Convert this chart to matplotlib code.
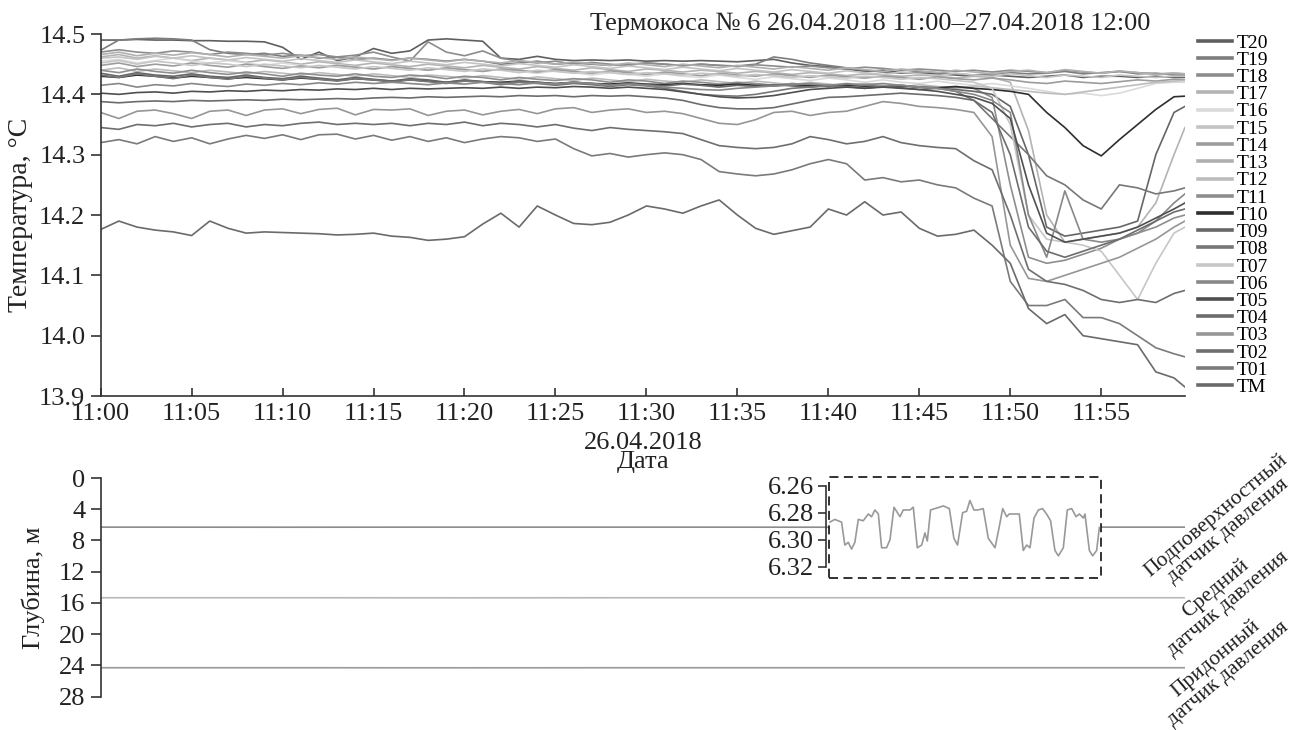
import matplotlib
matplotlib.use('Agg')
import matplotlib.pyplot as plt
from matplotlib.patches import Rectangle

plt.rcParams['font.family'] = ['Liberation Serif', 'DejaVu Serif']

# time in minutes after 11:00, 26.04.2018
minutes = list(range(60)) + [59.6]
tick_minutes = [0, 5, 10, 15, 20, 25, 30, 35, 40, 45, 50, 55]
tick_labels = ['11:00', '11:05', '11:10', '11:15', '11:20', '11:25',
               '11:30', '11:35', '11:40', '11:45', '11:50', '11:55']

# temperature, degC
tm = [14.176, 14.19, 14.18, 14.175, 14.172, 14.166, 14.19, 14.178, 14.17, 14.172,
      14.171, 14.17, 14.169, 14.167, 14.168, 14.17, 14.165, 14.163, 14.158, 14.16,
      14.164, 14.185, 14.203, 14.18, 14.215, 14.2, 14.186, 14.184, 14.188, 14.2,
      14.215, 14.21, 14.203, 14.215, 14.225, 14.2, 14.178, 14.168, 14.174, 14.18,
      14.21, 14.2, 14.222, 14.2, 14.205, 14.178, 14.165, 14.168, 14.175, 14.15,
      14.12, 14.045, 14.02, 14.035, 14.0, 13.995, 13.99, 13.985, 13.94, 13.93,
      13.915]
t01 = [14.32, 14.325, 14.318, 14.33, 14.322, 14.328, 14.318, 14.326, 14.332, 14.327,
       14.333, 14.325, 14.333, 14.334, 14.326, 14.332, 14.324, 14.33, 14.322, 14.328,
       14.32, 14.326, 14.33, 14.328, 14.322, 14.326, 14.31, 14.298, 14.302, 14.296,
       14.3, 14.303, 14.3, 14.292, 14.272, 14.268, 14.265, 14.268, 14.275, 14.285,
       14.292, 14.285, 14.258, 14.262, 14.255, 14.258, 14.25, 14.245, 14.228, 14.215,
       14.09, 14.05, 14.05, 14.06, 14.03, 14.03, 14.02, 14.0, 13.98, 13.97,
       13.965]
t02 = [14.345, 14.342, 14.35, 14.348, 14.352, 14.346, 14.35, 14.352, 14.346, 14.35,
       14.348, 14.352, 14.354, 14.35, 14.352, 14.35, 14.352, 14.348, 14.352, 14.35,
       14.354, 14.348, 14.352, 14.35, 14.346, 14.35, 14.344, 14.34, 14.345, 14.342,
       14.34, 14.338, 14.335, 14.325, 14.315, 14.312, 14.31, 14.312, 14.318, 14.33,
       14.325, 14.318, 14.322, 14.33, 14.32, 14.315, 14.312, 14.31, 14.29, 14.275,
       14.2, 14.11, 14.09, 14.085, 14.075, 14.06, 14.055, 14.06, 14.055, 14.07,
       14.075]
t03 = [14.37, 14.36, 14.372, 14.374, 14.368, 14.36, 14.372, 14.374, 14.365, 14.374,
       14.376, 14.368, 14.375, 14.377, 14.366, 14.375, 14.374, 14.376, 14.365, 14.372,
       14.374, 14.366, 14.372, 14.375, 14.368, 14.376, 14.378, 14.37, 14.374, 14.376,
       14.37, 14.372, 14.368, 14.36, 14.352, 14.35, 14.358, 14.37, 14.372, 14.365,
       14.37, 14.372, 14.38, 14.388, 14.385, 14.38, 14.378, 14.375, 14.37, 14.33,
       14.15, 14.095, 14.09, 14.1, 14.11, 14.12, 14.13, 14.145, 14.16, 14.18,
       14.19]
t04 = [14.388, 14.386, 14.388, 14.389, 14.388, 14.39, 14.389, 14.39, 14.391, 14.39,
       14.392, 14.391, 14.392, 14.393, 14.392, 14.394, 14.395, 14.394, 14.396, 14.395,
       14.396, 14.397, 14.396, 14.398, 14.397, 14.398, 14.396, 14.398, 14.397, 14.398,
       14.396, 14.394, 14.39, 14.383, 14.378, 14.376, 14.376, 14.378, 14.384, 14.39,
       14.395, 14.396, 14.398, 14.4, 14.402, 14.4, 14.398, 14.395, 14.39, 14.37,
       14.3, 14.18, 14.14, 14.13, 14.14, 14.15, 14.16, 14.175, 14.19, 14.205,
       14.21]
t05 = [14.402, 14.4, 14.403, 14.404, 14.402, 14.405, 14.404, 14.406, 14.405, 14.407,
       14.406, 14.408, 14.407, 14.409, 14.408, 14.41, 14.408, 14.41, 14.409, 14.41,
       14.411, 14.41, 14.412, 14.41, 14.412, 14.411, 14.413, 14.412, 14.41, 14.412,
       14.41, 14.408, 14.404, 14.4, 14.396, 14.394, 14.395, 14.398, 14.403, 14.408,
       14.41, 14.412, 14.41, 14.412, 14.41, 14.408, 14.405, 14.4, 14.395, 14.385,
       14.36, 14.25, 14.17, 14.155, 14.16, 14.165, 14.17, 14.18, 14.195, 14.21,
       14.22]
t06 = [14.415, 14.418, 14.412, 14.416, 14.414, 14.418, 14.415, 14.413, 14.417, 14.415,
       14.418, 14.416, 14.419, 14.417, 14.42, 14.418, 14.42, 14.418, 14.416, 14.419,
       14.417, 14.42, 14.418, 14.416, 14.419, 14.417, 14.42, 14.418, 14.415, 14.417,
       14.415, 14.412, 14.41, 14.408, 14.407, 14.41, 14.412, 14.414, 14.416, 14.418,
       14.415, 14.418, 14.416, 14.418, 14.415, 14.412, 14.41, 14.405, 14.4, 14.39,
       14.37, 14.2, 14.13, 14.24, 14.16, 14.155, 14.16, 14.17, 14.19, 14.22,
       14.235]
t07 = [14.452, 14.456, 14.45, 14.455, 14.452, 14.448, 14.452, 14.45, 14.446, 14.45,
       14.447, 14.444, 14.448, 14.445, 14.442, 14.446, 14.443, 14.44, 14.444, 14.441,
       14.438, 14.442, 14.44, 14.436, 14.44, 14.438, 14.435, 14.438, 14.436, 14.433,
       14.436, 14.434, 14.432, 14.435, 14.433, 14.43, 14.433, 14.431, 14.428, 14.431,
       14.429, 14.427, 14.43, 14.428, 14.425, 14.428, 14.426, 14.423, 14.42, 14.41,
       14.35, 14.2, 14.16, 14.155, 14.15, 14.14, 14.1, 14.06, 14.12, 14.17,
       14.18]
t08 = [14.432, 14.428, 14.434, 14.43, 14.426, 14.432, 14.428, 14.425, 14.43, 14.427,
       14.424, 14.428, 14.425, 14.422, 14.426, 14.424, 14.42, 14.424, 14.421, 14.418,
       14.422, 14.42, 14.416, 14.42, 14.418, 14.415, 14.418, 14.416, 14.413, 14.416,
       14.414, 14.41, 14.405, 14.4, 14.398, 14.397, 14.4, 14.405, 14.41, 14.412,
       14.414, 14.412, 14.415, 14.413, 14.415, 14.412, 14.41, 14.405, 14.39, 14.36,
       14.33, 14.3, 14.265, 14.25, 14.225, 14.21, 14.25, 14.245, 14.235, 14.24,
       14.245]
t09 = [14.435, 14.43, 14.436, 14.432, 14.43, 14.434, 14.43, 14.428, 14.432, 14.428,
       14.426, 14.43, 14.427, 14.424, 14.428, 14.425, 14.422, 14.426, 14.424, 14.42,
       14.424, 14.421, 14.418, 14.422, 14.42, 14.417, 14.42, 14.418, 14.415, 14.418,
       14.416, 14.414, 14.417, 14.415, 14.412, 14.415, 14.413, 14.416, 14.414, 14.412,
       14.415, 14.413, 14.41, 14.413, 14.411, 14.408, 14.41, 14.408, 14.405, 14.4,
       14.38, 14.3, 14.18, 14.165, 14.17, 14.175, 14.18, 14.19, 14.3, 14.37,
       14.38]
t10 = [14.43, 14.428, 14.432, 14.43, 14.427, 14.43, 14.428, 14.426, 14.428, 14.426,
       14.424, 14.427, 14.425, 14.423, 14.426, 14.424, 14.422, 14.424, 14.422, 14.42,
       14.423, 14.421, 14.42, 14.422, 14.42, 14.418, 14.42, 14.418, 14.417, 14.419,
       14.417, 14.416, 14.418, 14.416, 14.415, 14.417, 14.415, 14.414, 14.416, 14.414,
       14.413, 14.415, 14.413, 14.412, 14.414, 14.412, 14.411, 14.413, 14.41, 14.408,
       14.405, 14.4, 14.37, 14.345, 14.315, 14.298, 14.325, 14.35, 14.375, 14.396,
       14.397]
t11 = [14.44, 14.436, 14.442, 14.438, 14.435, 14.44, 14.436, 14.433, 14.437, 14.434,
       14.43, 14.435, 14.432, 14.43, 14.434, 14.43, 14.428, 14.432, 14.43, 14.426,
       14.43, 14.428, 14.424, 14.428, 14.425, 14.423, 14.426, 14.424, 14.42, 14.424,
       14.422, 14.418, 14.422, 14.42, 14.417, 14.42, 14.418, 14.415, 14.418, 14.416,
       14.413, 14.416, 14.414, 14.412, 14.415, 14.412, 14.41, 14.412, 14.41, 14.395,
       14.25, 14.13, 14.12, 14.125, 14.135, 14.145, 14.16, 14.17, 14.18, 14.195,
       14.2]
t12 = [14.44, 14.444, 14.438, 14.442, 14.439, 14.436, 14.44, 14.437, 14.434, 14.438,
       14.435, 14.432, 14.436, 14.433, 14.43, 14.434, 14.431, 14.428, 14.432, 14.43,
       14.427, 14.431, 14.428, 14.425, 14.429, 14.426, 14.423, 14.427, 14.424, 14.421,
       14.425, 14.422, 14.42, 14.424, 14.421, 14.418, 14.422, 14.419, 14.416, 14.42,
       14.417, 14.414, 14.418, 14.415, 14.412, 14.416, 14.413, 14.41, 14.414, 14.411,
       14.408, 14.405, 14.402, 14.4, 14.404, 14.408, 14.412, 14.416, 14.42, 14.422,
       14.423]
t13 = [14.466, 14.47, 14.464, 14.468, 14.465, 14.469, 14.466, 14.462, 14.466, 14.463,
       14.46, 14.464, 14.461, 14.458, 14.462, 14.459, 14.456, 14.46, 14.457, 14.454,
       14.458, 14.455, 14.452, 14.456, 14.453, 14.45, 14.454, 14.451, 14.448, 14.452,
       14.449, 14.446, 14.45, 14.447, 14.444, 14.448, 14.445, 14.442, 14.446, 14.443,
       14.44, 14.444, 14.441, 14.438, 14.442, 14.439, 14.436, 14.44, 14.437, 14.434,
       14.438, 14.44, 14.436, 14.441, 14.438, 14.435, 14.439, 14.436, 14.433, 14.435,
       14.434]
t14 = [14.448, 14.452, 14.446, 14.45, 14.447, 14.452, 14.448, 14.445, 14.45, 14.446,
       14.443, 14.447, 14.444, 14.448, 14.445, 14.442, 14.446, 14.443, 14.44, 14.444,
       14.441, 14.438, 14.442, 14.44, 14.437, 14.441, 14.438, 14.435, 14.439, 14.436,
       14.433, 14.437, 14.434, 14.431, 14.435, 14.432, 14.43, 14.434, 14.431, 14.428,
       14.432, 14.429, 14.427, 14.43, 14.428, 14.425, 14.429, 14.426, 14.424, 14.427,
       14.424, 14.42, 14.418, 14.422, 14.42, 14.418, 14.421, 14.424, 14.422, 14.425,
       14.424]
t15 = [14.46, 14.462, 14.458, 14.463, 14.46, 14.464, 14.46, 14.457, 14.461, 14.458,
       14.455, 14.459, 14.456, 14.453, 14.457, 14.454, 14.451, 14.455, 14.452, 14.449,
       14.453, 14.45, 14.447, 14.451, 14.448, 14.445, 14.449, 14.446, 14.443, 14.447,
       14.444, 14.441, 14.445, 14.442, 14.439, 14.443, 14.44, 14.437, 14.441, 14.438,
       14.435, 14.439, 14.436, 14.433, 14.437, 14.434, 14.431, 14.435, 14.432, 14.43,
       14.434, 14.431, 14.428, 14.432, 14.43, 14.428, 14.432, 14.43, 14.428, 14.43,
       14.43]
t16 = [14.455, 14.458, 14.452, 14.456, 14.46, 14.455, 14.452, 14.456, 14.452, 14.448,
       14.452, 14.448, 14.445, 14.449, 14.446, 14.442, 14.446, 14.443, 14.44, 14.444,
       14.441, 14.438, 14.442, 14.438, 14.435, 14.439, 14.436, 14.432, 14.436, 14.433,
       14.43, 14.434, 14.43, 14.428, 14.432, 14.428, 14.425, 14.429, 14.426, 14.423,
       14.427, 14.424, 14.42, 14.424, 14.42, 14.418, 14.422, 14.418, 14.415, 14.418,
       14.414, 14.41, 14.405, 14.4, 14.402, 14.398, 14.402, 14.41, 14.418, 14.42,
       14.42]
t17 = [14.462, 14.466, 14.46, 14.464, 14.46, 14.456, 14.46, 14.457, 14.453, 14.457,
       14.454, 14.45, 14.454, 14.451, 14.448, 14.452, 14.449, 14.446, 14.45, 14.447,
       14.444, 14.448, 14.445, 14.442, 14.446, 14.443, 14.44, 14.444, 14.441, 14.438,
       14.442, 14.44, 14.437, 14.44, 14.438, 14.435, 14.438, 14.436, 14.433, 14.436,
       14.434, 14.431, 14.434, 14.432, 14.43, 14.432, 14.43, 14.427, 14.43, 14.428,
       14.42, 14.34, 14.2, 14.155, 14.16, 14.165, 14.17, 14.18, 14.22, 14.3,
       14.345]
t18 = [14.47, 14.474, 14.47, 14.468, 14.472, 14.47, 14.466, 14.47, 14.468, 14.465,
       14.468, 14.464, 14.466, 14.462, 14.465, 14.47, 14.462, 14.455, 14.487, 14.47,
       14.464, 14.472, 14.46, 14.455, 14.452, 14.455, 14.45, 14.453, 14.45, 14.448,
       14.452, 14.45, 14.447, 14.45, 14.448, 14.446, 14.449, 14.447, 14.445, 14.447,
       14.444, 14.442, 14.445, 14.443, 14.44, 14.442, 14.44, 14.438, 14.44, 14.437,
       14.44, 14.438, 14.436, 14.44, 14.437, 14.435, 14.438, 14.436, 14.434, 14.435,
       14.434]
t19 = [14.473, 14.49, 14.492, 14.493, 14.492, 14.49, 14.474, 14.468, 14.466, 14.468,
       14.463, 14.465, 14.46, 14.462, 14.458, 14.46, 14.457, 14.46, 14.458, 14.455,
       14.458, 14.455, 14.45, 14.452, 14.455, 14.45, 14.452, 14.45, 14.448, 14.45,
       14.452, 14.45, 14.448, 14.45, 14.448, 14.447, 14.45, 14.462, 14.458, 14.452,
       14.448, 14.444, 14.44, 14.437, 14.435, 14.438, 14.436, 14.434, 14.432, 14.434,
       14.436, 14.434, 14.435, 14.438, 14.434, 14.436, 14.438, 14.434, 14.435, 14.432,
       14.432]
t20 = [14.49, 14.49, 14.491, 14.49, 14.49, 14.489, 14.489, 14.488, 14.488, 14.487,
       14.478, 14.458, 14.47, 14.456, 14.462, 14.476, 14.468, 14.472, 14.49, 14.492,
       14.49, 14.488, 14.46, 14.458, 14.463, 14.458, 14.456, 14.457, 14.456, 14.457,
       14.455, 14.456, 14.455, 14.456, 14.455, 14.454, 14.456, 14.458, 14.452, 14.448,
       14.446, 14.442, 14.438, 14.44, 14.436, 14.435, 14.434, 14.432, 14.43, 14.432,
       14.43, 14.428, 14.43, 14.432, 14.428, 14.43, 14.43, 14.428, 14.43, 14.428,
       14.428]

series_names = ['T20', 'T19', 'T18', 'T17', 'T16', 'T15', 'T14', 'T13', 'T12', 'T11',
                'T10', 'T09', 'T08', 'T07', 'T06', 'T05', 'T04', 'T03', 'T02', 'T01', 'TM']
series_vals = [t20, t19, t18, t17, t16, t15, t14, t13, t12, t11,
               t10, t09, t08, t07, t06, t05, t04, t03, t02, t01, tm]
series_cols = ['#5f5f5f', '#7d7d7d', '#8c8c8c', '#b3b3b3', '#dadada', '#c3c3c3',
               '#9c9c9c', '#b0b0b0', '#bcbcbc', '#8e8e8e', '#2e2e2e', '#666666',
               '#777777', '#c6c6c6', '#888888', '#4f4f4f', '#6c6c6c', '#969696',
               '#6e6e6e', '#7a7a7a', '#6a6a6a']

# pressure sensor depths, m
depth_t = [0, 10, 20, 30, 40, 50, 59.6]
surface_depth = [6.29, 6.3, 6.29, 6.29, 6.3, 6.29, 6.29]
middle_depth = [15.33, 15.33, 15.34, 15.33, 15.33, 15.33, 15.33]
bottom_depth = [24.29, 24.29, 24.3, 24.29, 24.29, 24.29, 24.29]

# zoomed surface sensor record 11:40-11:55
inset_t = [40.07, 40.34, 40.71, 40.89, 41.08, 41.26, 41.44, 41.63, 41.90, 42.18,
           42.36, 42.54, 42.73, 42.91, 43.18, 43.37, 43.59, 43.92, 44.10, 44.47,
           44.65, 44.87, 45.11, 45.29, 45.42, 45.60, 45.84, 46.08, 46.30, 46.63,
           46.88, 47.08, 47.36, 47.58, 47.76, 47.98, 48.22, 48.49, 48.77, 49.14,
           49.35, 49.56, 49.78, 49.92, 50.14, 50.47, 50.69, 50.88, 51.06, 51.28,
           51.52, 51.75, 51.97, 52.19, 52.43, 52.62, 52.89, 53.11, 53.35, 53.59,
           53.77, 53.99, 54.08, 54.32, 54.50, 54.72, 54.87]
inset_depth = [6.287, 6.285, 6.287, 6.304, 6.302, 6.307, 6.302, 6.285, 6.286, 6.281,
               6.283, 6.278, 6.281, 6.306, 6.306, 6.300, 6.276, 6.283, 6.278, 6.278,
               6.276, 6.306, 6.304, 6.295, 6.301, 6.278, 6.277, 6.276, 6.275, 6.277,
               6.299, 6.304, 6.280, 6.279, 6.271, 6.278, 6.278, 6.277, 6.299, 6.306,
               6.292, 6.277, 6.283, 6.281, 6.281, 6.281, 6.308, 6.304, 6.306, 6.284,
               6.278, 6.277, 6.281, 6.286, 6.308, 6.312, 6.306, 6.278, 6.277, 6.283,
               6.281, 6.284, 6.281, 6.308, 6.312, 6.308, 6.291]

axis_col = '#333333'
fs = 19

fig = plt.figure(figsize=(13.07, 7.3), dpi=100)

# --- temperature panel
ax = fig.add_axes([0.077, 0.4575, 0.8296, 0.4959])
handles = []
for name, vals, col in zip(series_names, series_vals, series_cols):
    ln, = ax.plot(minutes, vals, color=col, lw=1.2, label=name)
    handles.append(ln)
ax.set_xlim(0, 59.6)
ax.set_ylim(13.9, 14.5)
ax.set_yticks([13.9, 14.0, 14.1, 14.2, 14.3, 14.4, 14.5])
ax.set_yticklabels(['13.9', '14.0', '14.1', '14.2', '14.3', '14.4', '14.5'])
ax.set_xticks(tick_minutes)
ax.set_xticklabels(tick_labels)
for s in ['top', 'right']:
    ax.spines[s].set_visible(False)
for s in ['left', 'bottom']:
    ax.spines[s].set_color(axis_col)
    ax.spines[s].set_linewidth(1.2)
ax.tick_params(axis='y', direction='out', length=7, width=1.2, pad=4,
               labelsize=fs, colors=axis_col, labelcolor='#222222')
ax.tick_params(axis='x', direction='in', length=6, width=1.2, pad=5,
               labelsize=fs, colors=axis_col, labelcolor='#222222')
ax.set_ylabel('Температура, °C', fontsize=20, color='#222222')
ax.yaxis.set_label_coords(-0.0625, 0.5)
ax.set_xlabel('26.04.2018\nДата', fontsize=fs, color='#222222', linespacing=0.8)
ax.xaxis.set_label_coords(0.5, -0.1)

fig.text(0.88, 0.967, 'Термокоса № 6 26.04.2018 11:00–27.04.2018 12:00',
         ha='right', va='center', fontsize=fs, color='#222222')

leg = fig.legend(handles=handles, loc='upper left',
                 bbox_to_anchor=(1198 / 1307, 1 - 34 / 730),
                 frameon=False, fontsize=14, handlelength=1.75,
                 handletextpad=0.25, labelspacing=-0.02, borderpad=0,
                 borderaxespad=0)
for ln in leg.get_lines():
    ln.set_linewidth(2.6)

# --- depth panel
ax2 = fig.add_axes([0.077, 0.0456, 0.8296, 0.2996])
ax2.plot(depth_t, surface_depth, color='#8c8c8c', lw=1.2)
ax2.plot(depth_t, middle_depth, color='#b8b8b8', lw=1.2)
ax2.plot(depth_t, bottom_depth, color='#9a9a9a', lw=1.2)
ax2.set_xlim(0, 59.6)
ax2.set_ylim(28, 0)
ax2.set_yticks([0, 4, 8, 12, 16, 20, 24, 28])
ax2.xaxis.set_visible(False)
for s in ['top', 'right', 'bottom']:
    ax2.spines[s].set_visible(False)
ax2.spines['left'].set_color(axis_col)
ax2.spines['left'].set_linewidth(1.2)
ax2.tick_params(axis='y', direction='out', length=7, width=1.2, pad=4,
                labelsize=fs, colors=axis_col, labelcolor='#222222')
ax2.set_ylabel('Глубина, м', fontsize=fs, color='#222222')
ax2.yaxis.set_label_coords(-0.0514, 0.5)

# --- inset with zoomed surface sensor
axi = fig.add_axes([829 / 1307, 152 / 730, 272 / 1307, 101 / 730])
axi.plot(inset_t, inset_depth, color='#999999', lw=1.2)
axi.set_xlim(40.02, 54.96)
axi.set_ylim(6.3284, 6.2536)
axi.set_yticks([6.26, 6.28, 6.30, 6.32])
axi.set_yticklabels(['6.26', '6.28', '6.30', '6.32'])
axi.xaxis.set_visible(False)
for s in ['top', 'right', 'bottom']:
    axi.spines[s].set_visible(False)
axi.spines['left'].set_bounds(6.26, 6.32)
axi.spines['left'].set_position(('outward', 2))
axi.spines['left'].set_color(axis_col)
axi.spines['left'].set_linewidth(1.2)
axi.tick_params(axis='y', direction='out', length=6, width=1.2, pad=3,
                labelsize=fs, colors=axis_col, labelcolor='#222222')
axi.add_patch(Rectangle((0, 0), 1, 1, transform=axi.transAxes, fill=False,
                        ec='#222222', lw=1.3, ls=(0, (5, 3)), clip_on=False))

# --- sensor captions
captions = ['Подповерхностный\nдатчик давления',
            'Средний\nдатчик давления',
            'Придонный\nдатчик давления']
caption_xy = [(1222, 523), (1222, 596), (1222, 666)]
for txt, (px, py) in zip(captions, caption_xy):
    fig.text(px / 1307, 1 - py / 730, txt, rotation=40, rotation_mode='anchor',
             ha='center', va='center', multialignment='center', fontsize=15.5,
             linespacing=1.0, color='#222222')

fig.savefig('out.png', dpi=100)
